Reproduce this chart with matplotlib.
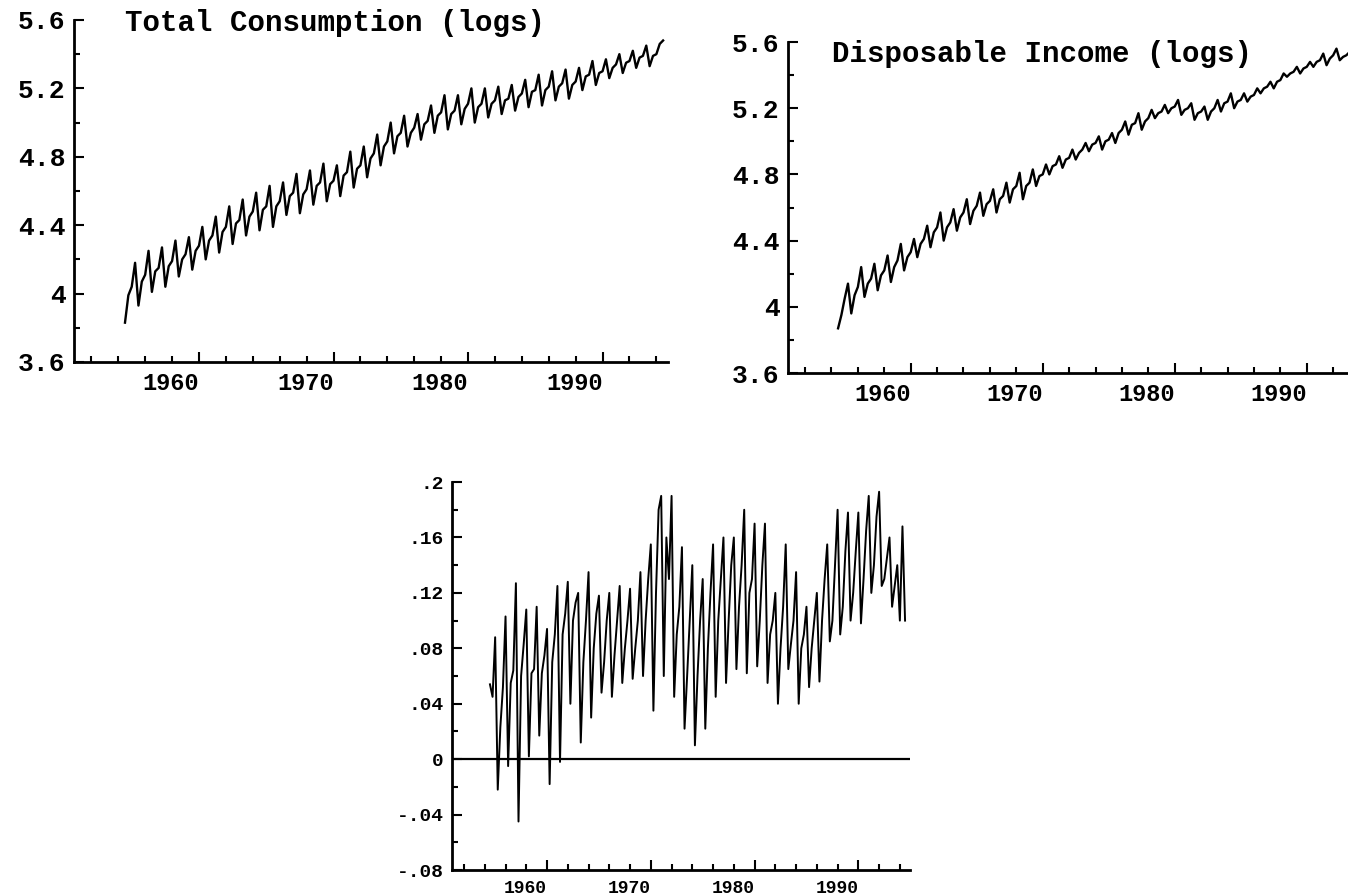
import numpy as np
import matplotlib.pyplot as plt

# quarterly observations, first one plotted at 1954.5
start_year = 1954.5

consumption = [
    3.83, 3.99, 4.04, 4.18,
    3.93, 4.07, 4.11, 4.25,
    4.01, 4.13, 4.15, 4.27,
    4.04, 4.16, 4.19, 4.31,
    4.10, 4.20, 4.23, 4.33,
    4.14, 4.25, 4.28, 4.39,
    4.20, 4.31, 4.34, 4.45,
    4.24, 4.36, 4.39, 4.51,
    4.29, 4.41, 4.43, 4.55,
    4.34, 4.45, 4.48, 4.59,
    4.37, 4.49, 4.51, 4.63,
    4.39, 4.51, 4.54, 4.65,
    4.46, 4.57, 4.59, 4.70,
    4.47, 4.58, 4.61, 4.72,
    4.52, 4.63, 4.65, 4.76,
    4.54, 4.64, 4.66, 4.75,
    4.57, 4.69, 4.71, 4.83,
    4.62, 4.73, 4.75, 4.86,
    4.68, 4.79, 4.82, 4.93,
    4.75, 4.86, 4.89, 5.00,
    4.82, 4.92, 4.94, 5.04,
    4.86, 4.94, 4.97, 5.05,
    4.90, 4.99, 5.01, 5.10,
    4.94, 5.04, 5.06, 5.16,
    4.96, 5.05, 5.07, 5.16,
    4.99, 5.08, 5.11, 5.20,
    5.00, 5.09, 5.11, 5.20,
    5.03, 5.11, 5.13, 5.21,
    5.05, 5.13, 5.14, 5.22,
    5.07, 5.15, 5.17, 5.25,
    5.09, 5.18, 5.19, 5.28,
    5.10, 5.19, 5.21, 5.30,
    5.13, 5.21, 5.23, 5.31,
    5.14, 5.22, 5.24, 5.32,
    5.19, 5.27, 5.28, 5.36,
    5.22, 5.29, 5.30, 5.37,
    5.26, 5.32, 5.34, 5.40,
    5.29, 5.35, 5.36, 5.42,
    5.32, 5.38, 5.39, 5.45,
    5.33, 5.39, 5.40, 5.46,
    5.48,
]

income = [
    3.87, 3.95, 4.05, 4.14,
    3.96, 4.07, 4.12, 4.24,
    4.06, 4.14, 4.17, 4.26,
    4.10, 4.19, 4.22, 4.31,
    4.15, 4.24, 4.28, 4.38,
    4.22, 4.30, 4.33, 4.41,
    4.30, 4.38, 4.41, 4.49,
    4.36, 4.45, 4.48, 4.57,
    4.40, 4.48, 4.51, 4.59,
    4.46, 4.54, 4.57, 4.65,
    4.50, 4.58, 4.61, 4.69,
    4.55, 4.62, 4.64, 4.71,
    4.57, 4.65, 4.67, 4.75,
    4.63, 4.71, 4.73, 4.81,
    4.65, 4.73, 4.75, 4.83,
    4.73, 4.79, 4.80, 4.86,
    4.80, 4.85, 4.86, 4.91,
    4.84, 4.89, 4.90, 4.95,
    4.89, 4.93, 4.95, 4.99,
    4.94, 4.98, 4.99, 5.03,
    4.95, 5.00, 5.01, 5.05,
    4.99, 5.05, 5.07, 5.12,
    5.04, 5.10, 5.11, 5.17,
    5.07, 5.12, 5.14, 5.19,
    5.14, 5.17, 5.18, 5.22,
    5.17, 5.20, 5.21, 5.25,
    5.16, 5.19, 5.20, 5.23,
    5.13, 5.17, 5.18, 5.21,
    5.13, 5.18, 5.20, 5.25,
    5.18, 5.23, 5.24, 5.29,
    5.20, 5.24, 5.25, 5.29,
    5.24, 5.27, 5.28, 5.32,
    5.29, 5.32, 5.33, 5.36,
    5.32, 5.36, 5.37, 5.41,
    5.39, 5.41, 5.42, 5.45,
    5.41, 5.44, 5.45, 5.48,
    5.45, 5.48, 5.49, 5.53,
    5.46, 5.50, 5.52, 5.56,
    5.49, 5.51, 5.52, 5.54,
    5.49, 5.52, 5.53, 5.55,
    5.52,
]

gap = [
    0.054, 0.045, 0.088, -0.022,
    0.023, 0.052, 0.103, -0.005,
    0.055, 0.064, 0.127, -0.045,
    0.060, 0.083, 0.108, 0.002,
    0.062, 0.065, 0.110, 0.017,
    0.062, 0.075, 0.094, -0.018,
    0.070, 0.090, 0.125, -0.002,
    0.090, 0.105, 0.128, 0.040,
    0.100, 0.113, 0.120, 0.012,
    0.070, 0.100, 0.135, 0.030,
    0.080, 0.105, 0.118, 0.048,
    0.070, 0.100, 0.120, 0.045,
    0.075, 0.100, 0.125, 0.055,
    0.080, 0.100, 0.123, 0.058,
    0.080, 0.100, 0.135, 0.060,
    0.100, 0.130, 0.155, 0.035,
    0.120, 0.180, 0.190, 0.060,
    0.160, 0.130, 0.190, 0.045,
    0.090, 0.110, 0.153, 0.022,
    0.060, 0.100, 0.140, 0.010,
    0.060, 0.100, 0.130, 0.022,
    0.080, 0.120, 0.155, 0.045,
    0.100, 0.130, 0.160, 0.055,
    0.100, 0.140, 0.160, 0.065,
    0.110, 0.140, 0.180, 0.062,
    0.120, 0.130, 0.170, 0.067,
    0.100, 0.140, 0.170, 0.055,
    0.090, 0.100, 0.120, 0.040,
    0.080, 0.110, 0.155, 0.065,
    0.083, 0.100, 0.135, 0.040,
    0.080, 0.090, 0.110, 0.052,
    0.080, 0.100, 0.120, 0.056,
    0.100, 0.130, 0.155, 0.085,
    0.100, 0.140, 0.180, 0.090,
    0.110, 0.150, 0.178, 0.100,
    0.120, 0.150, 0.178, 0.098,
    0.130, 0.165, 0.190, 0.120,
    0.140, 0.175, 0.193, 0.125,
    0.130, 0.145, 0.160, 0.110,
    0.125, 0.140, 0.100, 0.168,
    0.100,
]

decades = [1960, 1970, 1980, 1990]
decade_labels = ['1960', '1970', '1980', '1990']
x_minor = [1952, 1954, 1956, 1958, 1962, 1964, 1966, 1968, 1972, 1974, 1976,
           1978, 1982, 1984, 1986, 1988, 1992, 1994]

log_ticks = [3.6, 4.0, 4.4, 4.8, 5.2, 5.6]
log_labels = ['3.6', '4', '4.4', '4.8', '5.2', '5.6']
log_minor = [3.8, 4.2, 4.6, 5.0, 5.4]

gap_ticks = [-0.08, -0.04, 0.0, 0.04, 0.08, 0.12, 0.16, 0.2]
gap_labels = ['-.08', '-.04', '0', '.04', '.08', '.12', '.16', '.2']
gap_minor = [-0.06, -0.02, 0.02, 0.06, 0.10, 0.14, 0.18]

plt.rcParams['font.family'] = ['Liberation Mono', 'DejaVu Sans Mono']
plt.rcParams['font.weight'] = 'bold'

years = start_year + np.arange(len(consumption)) / 4


def style(ax, xlim, ylim, yticks, ylabels, yminor, ysize, xsize):
    ax.set_xlim(xlim)
    ax.set_ylim(ylim)
    for side in ['top', 'right']:
        ax.spines[side].set_visible(False)
    for side in ['left', 'bottom']:
        ax.spines[side].set_linewidth(2)
    ax.set_yticks(yticks)
    ax.set_yticklabels(ylabels)
    ax.set_yticks(yminor, minor=True)
    ax.set_xticks(decades)
    ax.set_xticklabels(decade_labels)
    ax.set_xticks(x_minor, minor=True)
    ax.tick_params(which='major', direction='in', length=7, width=1.5)
    ax.tick_params(which='minor', direction='in', length=4, width=1.5)
    ax.tick_params(axis='y', labelsize=ysize, pad=6)
    ax.tick_params(axis='x', labelsize=xsize, pad=7)
    for lab in ax.get_xticklabels():
        lab.set_horizontalalignment('right')
        lab.set_fontweight('bold')
    for lab in ax.get_yticklabels():
        lab.set_fontweight('bold')


fig = plt.figure(figsize=(13.48, 8.96), dpi=100)

ax1 = fig.add_axes([0.0549, 0.5960, 0.4407, 0.3817])
ax1.plot(years, consumption, color='black', lw=1.7)
style(ax1, (1950.71, 1994.87), (3.6, 5.6), log_ticks, log_labels, log_minor, 19, 17)
fig.text(125 / 1348, 1 - 23 / 896, 'Total Consumption (logs)', fontsize=21,
         fontweight='bold', va='center', ha='left')

ax2 = fig.add_axes([0.5846, 0.5837, 0.4325, 0.3694])
ax2.plot(years, income, color='black', lw=1.7)
style(ax2, (1950.71, 1994.87), (3.6, 5.6), log_ticks, log_labels, log_minor, 19, 17)
fig.text(832 / 1348, 1 - 54 / 896, 'Disposable Income (logs)', fontsize=21,
         fontweight='bold', va='center', ha='left')

ax3 = fig.add_axes([0.3353, 0.0290, 0.3398, 0.4330])
ax3.plot(years, gap, color='black', lw=1.4)
ax3.axhline(0, color='black', lw=1.6)
style(ax3, (1950.84, 1994.98), (-0.08, 0.2), gap_ticks, gap_labels, gap_minor, 14, 13)

fig.savefig('out.png', dpi=100)
